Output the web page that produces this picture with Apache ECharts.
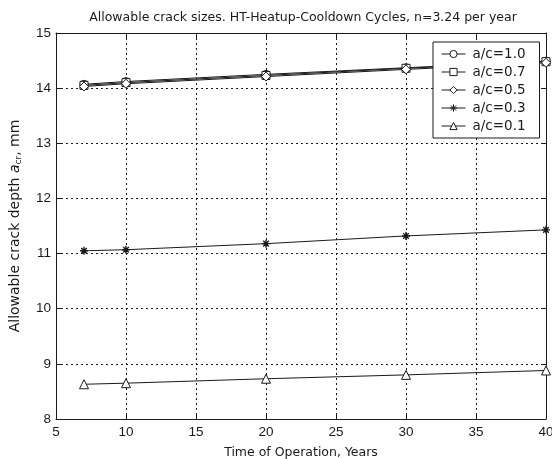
<!DOCTYPE html>
<html>
<head>
<meta charset="utf-8">
<script src="https://cdn.jsdelivr.net/npm/echarts@6/dist/echarts.min.js"></script>
<style>
  html, body { margin: 0; padding: 0; background: #fff; }
  #chart { width: 552px; height: 459px; }
</style>
</head>
<body>
<div id="chart"></div>
<script>
// Years of operation at which crack sizes were evaluated
const years = [7, 10, 20, 30, 40];

// Allowable crack depth (mm) for each aspect ratio a/c
const ac10 = [14.07, 14.12, 14.25, 14.37, 14.49];
const ac07 = [14.05, 14.10, 14.23, 14.36, 14.48];
const ac05 = [14.03, 14.08, 14.21, 14.34, 14.46];
const ac03 = [11.05, 11.07, 11.18, 11.32, 11.43];
const ac01 = [8.63, 8.65, 8.73, 8.80, 8.88];

const seriesNames = ['a/c=1.0', 'a/c=0.7', 'a/c=0.5', 'a/c=0.3', 'a/c=0.1'];

const xTicks = [5, 10, 15, 20, 25, 30, 35, 40];
const yTicks = [8, 9, 10, 11, 12, 13, 14, 15];

const FONT = '"Liberation Sans", Arial, sans-serif';
const WIDE = '"DejaVu Sans", "Liberation Sans", sans-serif';
const INK = '#1a1a1a';

const asterisk = 'path://M5,0L5,10M0,5L10,5M1.5,1.5L8.5,8.5M1.5,8.5L8.5,1.5';

function pairs(vals) {
  return years.map((x, i) => [x, vals[i]]);
}

function mkSeries(name, vals, symbol, size) {
  return {
    name: name,
    type: 'line',
    data: pairs(vals),
    symbol: symbol,
    symbolSize: size,
    showAllSymbol: true,
    lineStyle: { color: INK, width: 1 },
    itemStyle: { color: '#fff', borderColor: INK, borderWidth: 1 },
    emphasis: { disabled: true },
    z: 3
  };
}

const chart = echarts.init(document.getElementById('chart'), null, { renderer: 'canvas' });

const option = {
  animation: false,
  backgroundColor: '#fff',
  textStyle: { fontFamily: FONT, color: INK },
  title: {
    text: 'Allowable crack sizes. HT-Heatup-Cooldown Cycles, n=3.24 per year',
    left: 298,
    textAlign: 'center',
    top: 6,
    textStyle: { fontFamily: WIDE, fontSize: 12.5, fontWeight: 'normal', color: INK }
  },
  grid: { left: 56, right: 6, top: 33, bottom: 40, containLabel: false, outerBoundsMode: 'none' },
  legend: {
    data: seriesNames,
    orient: 'vertical',
    left: 433,
    top: 42,
    width: 105,
    padding: [5, 14, 5, 8],
    itemWidth: 24,
    itemHeight: 9,
    itemGap: 4,
    backgroundColor: '#fff',
    borderColor: INK,
    borderWidth: 1,
    lineStyle: { width: 1, color: INK },
    itemStyle: { borderWidth: 1 },
    textStyle: { fontFamily: WIDE, fontSize: 13.5, color: INK, padding: [0, 0, 0, 2] }
  },
  xAxis: [
    {
      type: 'value',
      min: 5, max: 40, interval: 5,
      position: 'bottom',
      name: 'Time of Operation, Years',
      nameLocation: 'middle',
      nameGap: 27,
      nameTextStyle: { fontFamily: WIDE, fontSize: 12.5, color: INK },
      axisLine: { show: true, lineStyle: { color: INK, width: 1 } },
      axisTick: { show: true, inside: true, length: 5, lineStyle: { color: INK } },
      axisLabel: {
        fontFamily: FONT, fontSize: 13.5, color: INK, margin: 6,
        formatter: v => (xTicks.indexOf(v) >= 0 ? String(v) : '')
      },
      splitLine: { show: true, lineStyle: { color: INK, type: [2, 3], width: 1 } }
    },
    {
      type: 'value',
      min: 5, max: 40, interval: 5,
      position: 'top',
      axisLine: { show: true, lineStyle: { color: INK, width: 1 } },
      axisTick: { show: true, inside: true, length: 5, lineStyle: { color: INK } },
      axisLabel: { show: false },
      splitLine: { show: false }
    }
  ],
  yAxis: [
    {
      type: 'value',
      min: 8, max: 15, interval: 1,
      position: 'left',
      name: '{n|Allowable crack depth }{i|a}{s|cr}{n|, mm}',
      nameLocation: 'middle',
      nameGap: 33,
      nameRotate: 90,
      nameTextStyle: {
        fontFamily: WIDE, fontSize: 14, color: INK,
        rich: {
          n: { fontFamily: WIDE, fontSize: 14, color: INK },
          i: { fontFamily: WIDE, fontSize: 14, fontStyle: 'italic', color: INK },
          s: { fontFamily: WIDE, fontSize: 9, color: INK, padding: [7, 0, 0, 0] }
        }
      },
      axisLine: { show: true, lineStyle: { color: INK, width: 1 } },
      axisTick: { show: true, inside: true, length: 5, lineStyle: { color: INK } },
      axisLabel: {
        fontFamily: FONT, fontSize: 13.5, color: INK, margin: 5,
        formatter: v => (yTicks.indexOf(v) >= 0 ? String(v) : '')
      },
      splitLine: { show: true, lineStyle: { color: INK, type: [2, 3], width: 1 } }
    },
    {
      type: 'value',
      min: 8, max: 15, interval: 1,
      position: 'right',
      axisLine: { show: true, lineStyle: { color: INK, width: 1 } },
      axisTick: { show: true, inside: true, length: 5, lineStyle: { color: INK } },
      axisLabel: { show: false },
      splitLine: { show: false }
    }
  ],
  series: [
    mkSeries(seriesNames[0], ac10, 'circle', 8),
    mkSeries(seriesNames[1], ac07, 'rect', 8),
    mkSeries(seriesNames[2], ac05, 'diamond', 9),
    Object.assign(mkSeries(seriesNames[3], ac03, asterisk, 8), {
      itemStyle: { color: 'none', borderColor: INK, borderWidth: 1.4 }
    }),
    mkSeries(seriesNames[4], ac01, 'triangle', 9)
  ]
};

chart.setOption(option);
</script>
</body>
</html>
